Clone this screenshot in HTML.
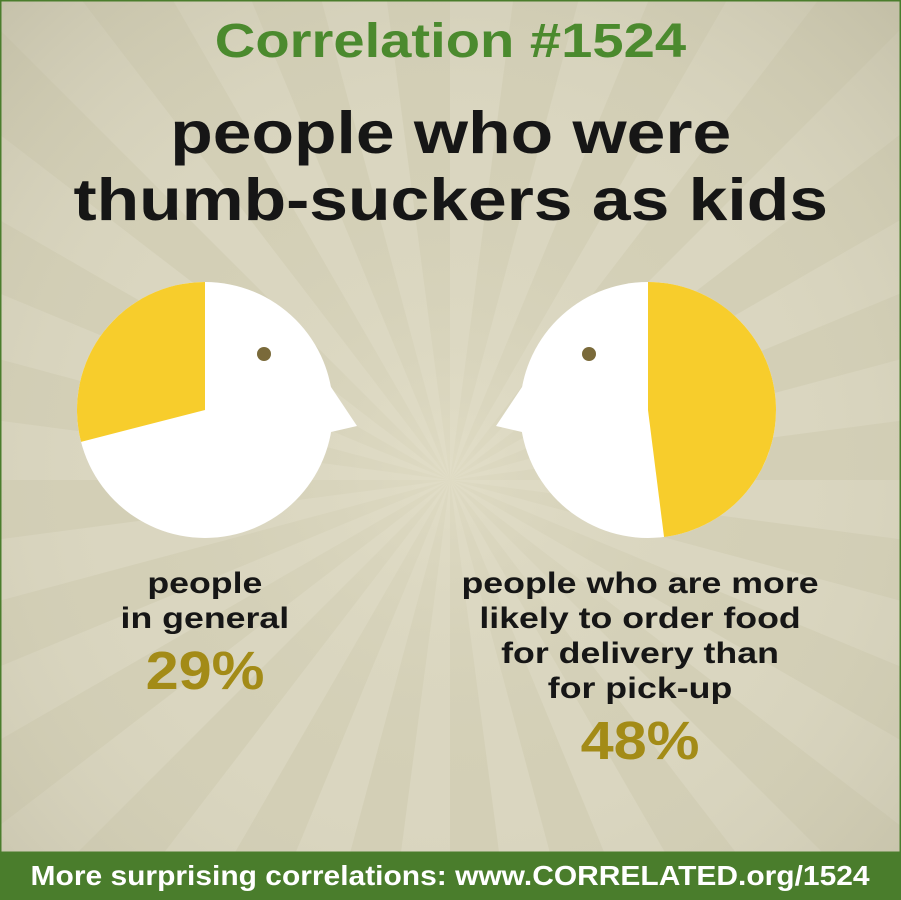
<!DOCTYPE html>
<html><head><meta charset="utf-8"><style>
html,body{margin:0;width:901px;height:900px;overflow:hidden;font-family:"Liberation Sans",sans-serif}
#wrap{position:relative;width:901px;height:900px;background:#d3cfb6;overflow:hidden}
svg{position:absolute;left:0;top:0}
.t{position:absolute;left:0;width:901px;text-align:center;font-weight:bold;white-space:nowrap;overflow:visible}
.w{display:inline-block;transform:scaleX(1.19);transform-origin:center}
</style></head><body>
<div id="wrap">
<svg id="s" width="901" height="900">
<defs><radialGradient id="vg" cx="450" cy="470" r="650" gradientUnits="userSpaceOnUse">
<stop offset="0" stop-color="#e6e2cc" stop-opacity="0.6"/><stop offset="0.5" stop-color="#d8d4bd" stop-opacity="0"/><stop offset="1" stop-color="#b8b49c" stop-opacity="0.6"/></radialGradient></defs>
</svg>
<div class="t" style="top:14px;font-size:48px;color:#4b8a2e"><span class="w" style="transform:scaleX(1.17)">Correlation #1524</span></div>
<div class="t" style="top:100px;font-size:59px;line-height:67px;color:#161616"><span class="w" style="transform:scaleX(1.18)">people who were<br>thumb-suckers as kids</span></div>
<div class="t" style="left:65px;width:280px;top:566px;font-size:30px;line-height:35px;color:#161616"><span class="w">people<br>in general</span></div>
<div class="t" style="left:65px;width:280px;top:640px;font-size:54px;color:#a38b17"><span class="w" style="transform:scaleX(1.1)">29%</span></div>
<div class="t" style="left:440px;width:400px;top:566px;font-size:30px;line-height:35px;color:#161616"><span class="w" style="transform:scaleX(1.19)">people who are more<br>likely to order food<br>for delivery than<br>for pick-up</span></div>
<div class="t" style="left:440px;width:400px;top:710px;font-size:54px;color:#a38b17"><span class="w" style="transform:scaleX(1.1)">48%</span></div>
<div style="position:absolute;left:0;top:853px;width:901px;height:47px;background:#4a7d2c"></div>
<div class="t" style="top:860px;height:34px;font-size:28px;line-height:32px;color:#fff"><span class="w" style="transform:scaleX(1.07)">More surprising correlations: www.CORRELATED.org/1524</span></div>
</div>
<script>
const categories=["people in general","delivery over pick-up"];
const values=[29,48];
const NS="http://www.w3.org/2000/svg";
const s=document.getElementById('s');
function mk(t,a){const e=document.createElementNS(NS,t);for(const k in a)e.setAttribute(k,a[k]);s.appendChild(e);return e;}
const cx=450,cy=480,N=48;
for(let i=0;i<N;i+=2){const a1=i/N*2*Math.PI,a2=(i+1)/N*2*Math.PI,RR=1000;
 const r=mk('polygon',{points:`${cx},${cy} ${cx+RR*Math.cos(a1)},${cy+RR*Math.sin(a1)} ${cx+RR*Math.cos(a2)},${cy+RR*Math.sin(a2)}`,fill:'#dad6c0'});
 
 }
const vg=mk('rect',{x:0,y:0,width:901,height:853,fill:'url(#vg)'});


mk('rect',{x:0,y:0,width:901,height:853,fill:'none',stroke:'#4a7d2c','stroke-width':3});
const heads=[{cx:205,cy:410,dir:1},{cx:648,cy:410,dir:-1}];
const R=128;
heads.forEach((h,i)=>{
 const d=h.dir;
 const c=mk('circle',{cx:h.cx,cy:h.cy,r:R,fill:'#fff'});
 
 
 const f=mk('polygon',{points:`${h.cx+d*70},${h.cy-107} ${h.cx+d*152},${h.cy+16} ${h.cx+d*126},${h.cy+22} ${h.cx},${h.cy+20}`,fill:'#fff'});
 
 
 const v=values[i]/100*2*Math.PI;
 const sweep=-d;
 const ex=h.cx+sweep*R*Math.sin(v),ey=h.cy-R*Math.cos(v);
 const large=v>Math.PI?1:0;
 const p=mk('path',{d:`M${h.cx},${h.cy} L${h.cx},${h.cy-R} A${R},${R} 0 ${large} ${sweep>0?1:0} ${ex},${ey} Z`,fill:'#f7cd2c'});
 
 
 const e=mk('ellipse',{cx:h.cx+d*59,cy:354,rx:7,ry:7,fill:'#7a6a3a'});
 
 
});
</script>
</body></html>
